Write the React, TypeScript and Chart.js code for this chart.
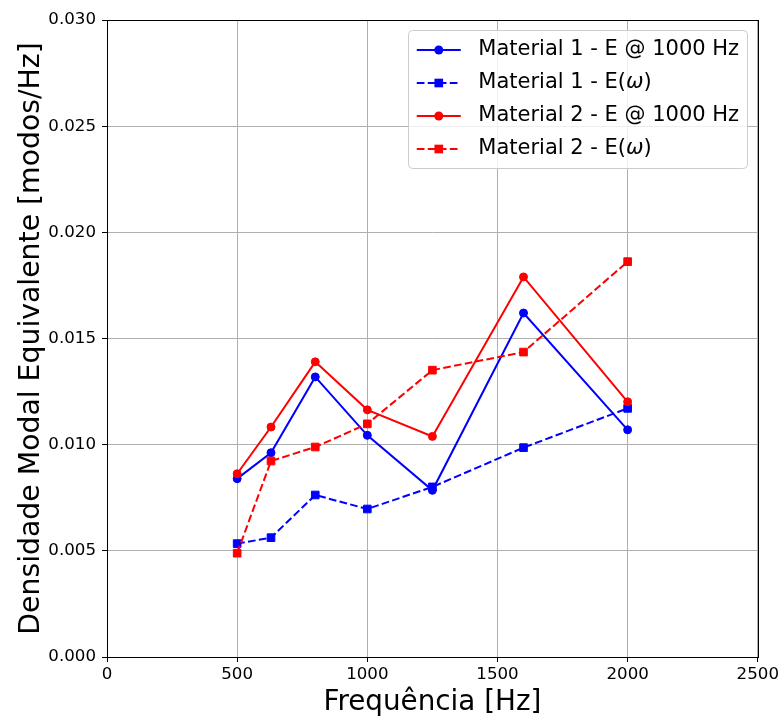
import React, { useEffect, useRef } from 'react';
import { Chart, registerables } from 'chart.js';

Chart.register(...registerables);

// ---- data ----
const freqs = [500, 630, 800, 1000, 1250, 1600, 2000];
const mat1E1000 = [0.0084, 0.00962, 0.01319, 0.01044, 0.00785, 0.0162, 0.0107];
const mat1Ew = [0.00534, 0.00562, 0.00763, 0.00697, 0.00801, 0.00986, 0.01171];
const mat2E1000 = [0.00863, 0.01083, 0.0139, 0.01164, 0.01039, 0.0179, 0.01202];
const mat2Ew = [0.00489, 0.00923, 0.00989, 0.01098, 0.01351, 0.01436, 0.01862];

const xTicks = [0, 500, 1000, 1500, 2000, 2500];
const yTicks = [0, 0.005, 0.01, 0.015, 0.02, 0.025, 0.03];

const seriesLabels = [
  'Material 1 - E @ 1000 Hz',
  'Material 1 - E(ω)',
  'Material 2 - E @ 1000 Hz',
  'Material 2 - E(ω)',
];
const xTitle = 'Frequência [Hz]';
const yTitle = 'Densidade Modal Equivalente [modos/Hz]';

const FONT = "'DejaVu Sans', sans-serif";
const DASH = [7.7, 3.3];

export default function App() {
  const ref = useRef<HTMLCanvasElement>(null);

  useEffect(() => {
    document.body.style.margin = '0';
    const canvas = ref.current;
    if (!canvas) return;

    const mk = (vals: number[]) => freqs.map((x, i) => ({ x, y: vals[i] }));

    const series = [
      { vals: mat1E1000, color: '#0000ff', dashed: false, style: 'circle', r: 4 },
      { vals: mat1Ew, color: '#0000ff', dashed: true, style: 'rect', r: 5.4 },
      { vals: mat2E1000, color: '#ff0000', dashed: false, style: 'circle', r: 4 },
      { vals: mat2Ew, color: '#ff0000', dashed: true, style: 'rect', r: 5.4 },
    ];

    const datasets = series.map((s, i) => ({
      label: seriesLabels[i],
      data: mk(s.vals),
      borderColor: s.color,
      backgroundColor: s.color,
      borderWidth: 2,
      borderDash: s.dashed ? DASH : [],
      pointStyle: s.style,
      pointRadius: s.r,
      pointBorderWidth: 1,
      pointBorderColor: s.color,
      pointBackgroundColor: s.color,
      tension: 0,
      fill: false,
      order: series.length - i,
    }));

    const drawLabel = (ctx: CanvasRenderingContext2D, text: string, x: number, y: number, size: number) => {
      const parts = text.split('ω');
      let cx = x;
      parts.forEach((p, idx) => {
        ctx.font = `${size}px ${FONT}`;
        ctx.fillText(p, cx, y);
        cx += ctx.measureText(p).width;
        if (idx < parts.length - 1) {
          ctx.font = `italic ${size}px ${FONT}`;
          ctx.fillText('ω', cx, y);
          cx += ctx.measureText('ω').width;
        }
      });
      return cx - x;
    };

    const decor = {
      id: 'decor',
      afterDraw(chart: any) {
        const ctx: CanvasRenderingContext2D = chart.ctx;
        const a = chart.chartArea;
        ctx.save();
        // frame
        ctx.strokeStyle = '#000';
        ctx.lineWidth = 1;
        ctx.setLineDash([]);
        ctx.strokeRect(Math.round(a.left) + 0.5, Math.round(a.top) + 0.5, Math.round(a.right - a.left), Math.round(a.bottom - a.top));

        // axis titles
        ctx.fillStyle = '#000';
        ctx.textAlign = 'center';
        ctx.textBaseline = 'alphabetic';
        ctx.font = `27.8px ${FONT}`;
        ctx.fillText(xTitle, (a.left + a.right) / 2, 710);
        ctx.save();
        ctx.font = `28.3px ${FONT}`;
        ctx.translate(39, (a.top + a.bottom) / 2);
        ctx.rotate(-Math.PI / 2);
        ctx.fillText(yTitle, 0, 0);
        ctx.restore();

        // legend
        const fs = 21;
        const pad = 8.3;
        const handleLen = 44;
        const handlePad = 17.5;
        const rowStep = 33;
        const textH = 22.6;
        ctx.textAlign = 'left';
        ctx.textBaseline = 'middle';
        let maxW = 0;
        chart.data.datasets.forEach((d: any) => {
          const parts = String(d.label).split('ω');
          let w = 0;
          parts.forEach((p: string, idx: number) => {
            ctx.font = `${fs}px ${FONT}`;
            w += ctx.measureText(p).width;
            if (idx < parts.length - 1) {
              ctx.font = `italic ${fs}px ${FONT}`;
              w += ctx.measureText('ω').width;
            }
          });
          maxW = Math.max(maxW, w);
        });
        const n = chart.data.datasets.length;
        const boxW = pad * 2 + handleLen + handlePad + maxW;
        const boxH = pad * 2 + (n - 1) * rowStep + textH;
        const boxRight = a.right - 10.4;
        const boxTop = a.top + 10.4;
        const boxLeft = boxRight - boxW;
        ctx.beginPath();
        (ctx as any).roundRect(Math.round(boxLeft) + 0.5, Math.round(boxTop) + 0.5, Math.round(boxW), Math.round(boxH), 4);
        ctx.fillStyle = 'rgba(255,255,255,0.8)';
        ctx.fill();
        ctx.strokeStyle = '#cccccc';
        ctx.lineWidth = 1;
        ctx.stroke();

        chart.data.datasets.forEach((d: any, i: number) => {
          const cy = boxTop + pad + textH / 2 + i * rowStep;
          const hx0 = boxLeft + pad;
          const hx1 = hx0 + handleLen;
          ctx.strokeStyle = d.borderColor;
          ctx.lineWidth = 2;
          ctx.setLineDash(d.borderDash || []);
          ctx.beginPath();
          ctx.moveTo(hx0, cy);
          ctx.lineTo(hx1, cy);
          ctx.stroke();
          ctx.setLineDash([]);
          ctx.fillStyle = d.borderColor;
          const mx = (hx0 + hx1) / 2;
          if (d.pointStyle === 'rect') {
            const s = d.pointRadius * Math.SQRT1_2 + 0.5;
            ctx.fillRect(mx - s, cy - s, 2 * s, 2 * s);
          } else {
            ctx.beginPath();
            ctx.arc(mx, cy, d.pointRadius + 0.5, 0, Math.PI * 2);
            ctx.fill();
          }
          ctx.fillStyle = '#000';
          drawLabel(ctx, String(d.label), hx1 + handlePad, cy, fs);
        });
        ctx.restore();
      },
    };

    const chart = new Chart(canvas, {
      type: 'line',
      data: { datasets: datasets as any },
      options: {
        responsive: false,
        devicePixelRatio: 1,
        animation: false,
        layout: { padding: { left: 0, top: 20, right: 23, bottom: 0 } },
        plugins: {
          legend: { display: false },
          tooltip: { enabled: false },
        },
        scales: {
          x: {
            type: 'linear',
            min: 0,
            max: 2500,
            afterBuildTicks: (s: any) => {
              s.ticks = xTicks.map((v) => ({ value: v }));
            },
            afterFit: (s: any) => {
              s.height = 60;
            },
            ticks: {
              color: '#000',
              font: { family: FONT, size: 16.67 },
              padding: 3,
              maxRotation: 0,
              callback: (v: any) => String(v),
            },
            grid: { color: '#b0b0b0', lineWidth: 1, tickColor: '#000', tickLength: 5 },
            border: { display: false },
          },
          y: {
            type: 'linear',
            min: 0,
            max: 0.03,
            afterBuildTicks: (s: any) => {
              s.ticks = yTicks.map((v) => ({ value: v }));
            },
            afterFit: (s: any) => {
              s.width = 107;
            },
            ticks: {
              color: '#000',
              font: { family: FONT, size: 16.67 },
              padding: 6,
              callback: (v: any) => Number(v).toFixed(3),
            },
            grid: { color: '#b0b0b0', lineWidth: 1, tickColor: '#000', tickLength: 5 },
            border: { display: false },
          },
        },
      },
      plugins: [decor],
    });

    return () => chart.destroy();
  }, []);

  return <canvas ref={ref} width={782} height={717} style={{ display: 'block', width: 782, height: 717 }} />;
}
